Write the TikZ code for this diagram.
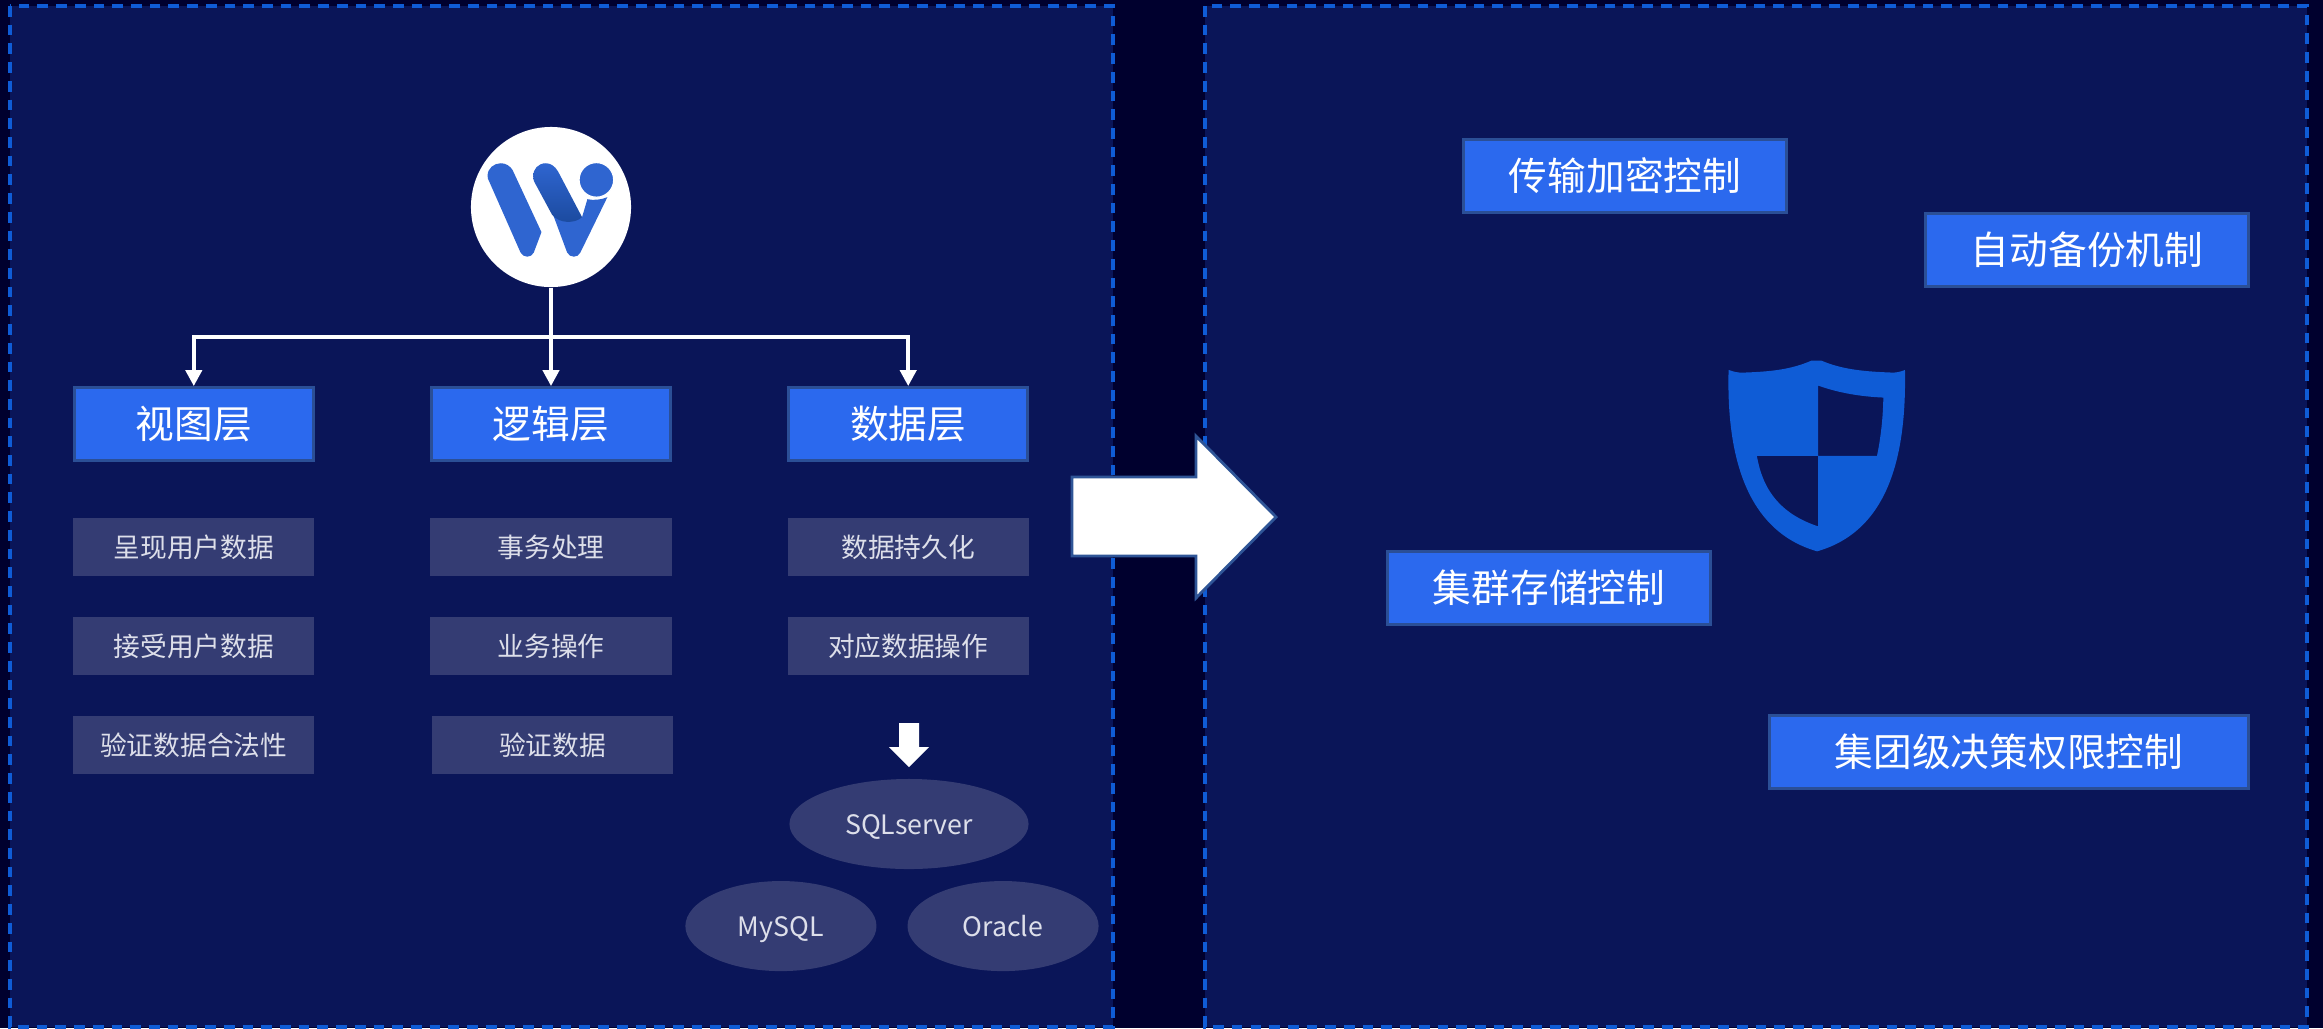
\documentclass[tikz,border=0pt]{standalone}
\usepackage{fontspec}
\setmainfont{Noto Sans CJK SC}
\usetikzlibrary{positioning, arrows.meta, shapes.geometric}
\definecolor{page_dark}{HTML}{00002E}
\definecolor{panel_navy}{HTML}{0A1558}
\definecolor{dash_blue}{HTML}{0F5CD6}
\definecolor{layer_blue}{HTML}{2B69EE}
\definecolor{layer_edge}{HTML}{2B4F96}
\definecolor{item_grey}{HTML}{343C73}
\definecolor{item_text}{HTML}{DDDFEA}
\definecolor{logo_blue}{HTML}{2F65D0}
\definecolor{logo_dark}{HTML}{1B4A9E}
\definecolor{arrow_edge}{HTML}{2F5597}

\begin{document}
\begin{tikzpicture}
    [
        x=0.01cm, y=-0.01cm,
        node distance=0.99cm and 3.57cm, on grid,
        panel_box/.style={draw=dash_blue, fill=panel_navy, line width=0.035cm, dash pattern=on 0.107cm off 0.08cm},
        layer_node/.style={rectangle, draw=layer_edge, fill=layer_blue, line width=0.03cm, minimum height=0.73cm, minimum width=2.39cm, inner sep=0pt, text=white, font=\fontsize{11}{13}\selectfont},
        ctrl_node/.style={layer_node, minimum width=3.22cm},
        item_node/.style={rectangle, fill=item_grey, minimum height=0.58cm, minimum width=2.41cm, inner sep=0pt, text=item_text, font=\fontsize{7.6}{10}\selectfont},
        db_node/.style={ellipse, fill=item_grey, minimum height=0.9cm, minimum width=1.91cm, inner sep=0pt, text height=0.2cm, text depth=0cm, text=item_text, font=\fontsize{7.6}{10}\selectfont},
        link/.style={draw=white, line width=0.04cm, -{Triangle[length=0.16cm, width=0.16cm]}},
    ]
        % background and panels
        \fill[page_dark] (0,0) rectangle (2323,1028);
        \draw[panel_box] (10,6) rectangle (1113,1027);
        \draw[panel_box] (1205,6) rectangle (2307,1027);

        % left side
        \node[circle, fill=white, minimum size=1.6cm, inner sep=0pt] (logo) at (551,207) {};
        \node[layer_node] (logic_layer) [below = 2.17cm of logo] {逻辑层};
        \node[layer_node] (view_layer) [left = of logic_layer] {视图层};
        \node[layer_node] (data_layer) [right = of logic_layer] {数据层};

        \node[item_node] (view_a) [below = 1.23cm of view_layer] {呈现用户数据};
        \node[item_node] (view_b) [below = of view_a] {接受用户数据};
        \node[item_node] (view_c) [below = of view_b] {验证数据合法性};
        \node[item_node] (logic_a) [below = 1.23cm of logic_layer] {事务处理};
        \node[item_node] (logic_b) [below = of logic_a] {业务操作};
        \node[item_node, xshift=0.015cm] (logic_c) [below = of logic_b] {验证数据};
        \node[item_node] (data_a) [below = 1.23cm of data_layer] {数据持久化};
        \node[item_node] (data_b) [below = of data_a] {对应数据操作};

        \node[db_node, minimum width=2.39cm] (sql_db) at (909,824) {SQLserver};
        \node[db_node] (mysql_db) [below left = 1.02cm and 1.28cm of sql_db] {MySQL};
        \node[db_node] (oracle_db) [right = 2.22cm of mysql_db] {Oracle};

        \coordinate (bus) at (551,337);
        \draw[link] (logo) -- (logic_layer);
        \draw[link] (bus) -| (view_layer);
        \draw[link] (bus) -| (data_layer);
        \fill[white] (899,723) -- (919,723) -- (919,747) -- (929,747) -- (909,767) -- (889,747) -- (899,747) -- cycle;

        % logo letter
        \begin{scope}[shift={(420,100)}, x=0.00333cm, y=-0.00333cm]
            \fill[logo_blue] (278,210) -- (365,397) -- (342,458) .. controls (335,475) and (310,475) .. (302,458) -- (208,245) .. controls (205,240) and (203,235) .. (203,228) .. controls (203,205) and (222,190) .. (243,190) .. controls (258,190) and (270,198) .. (278,210) -- cycle;
            \fill[logo_blue] (400,345) -- (442,458) .. controls (450,475) and (475,475) .. (482,458) -- (563,292) .. controls (545,300) and (520,302) .. (503,298) -- (487,352) -- cycle;
            \path[top color=logo_blue, middle color=logo_blue, bottom color=logo_dark] (343,245) -- (397,345) .. controls (420,372) and (465,372) .. (487,352) -- (415,215) .. controls (405,198) and (392,190) .. (378,190) .. controls (355,190) and (340,208) .. (340,228) .. controls (340,235) and (341,240) .. (343,245) -- cycle;
            \fill[logo_blue, draw=white, line width=0.012cm] (530,240) circle (52);
        \end{scope}

        % big arrow
        \draw[draw=arrow_edge, fill=white, line width=0.028cm] (1072,477) -- (1196,477) -- (1196,436) -- (1276,517) -- (1196,598) -- (1196,556) -- (1072,556) -- cycle;

        % right side
        \node[ctrl_node] (ctrl_a) at (1625,176) {传输加密控制};
        \node[ctrl_node] (ctrl_b) at (2087,250) {自动备份机制};
        \node[ctrl_node] (ctrl_c) at (1549,588) {集群存储控制};
        \node[ctrl_node, minimum width=4.78cm] (ctrl_d) at (2009,752) {集团级决策权限控制};

        % shield
        \begin{scope}[shift={(1680,330)}, x=0.00333cm, y=-0.00333cm]
            \fill[dash_blue, even odd rule] (146,120) .. controls (160,125) and (175,129) .. (190,128) .. controls (270,125) and (330,120) .. (395,92) -- (425,92) .. controls (490,120) and (560,125) .. (640,128) .. controls (650,128) and (665,125) .. (676,120) .. controls (680,350) and (640,600) .. (412,665) .. controls (185,600) and (140,350) .. (146,120) -- cycle
                (415,167) .. controls (480,190) and (545,200) .. (611,203) .. controls (610,265) and (603,325) .. (592,378) -- (415,378) -- cycle
                (231,378) -- (415,378) -- (415,590) .. controls (310,555) and (250,490) .. (231,378) -- cycle;
        \end{scope}
    \end{tikzpicture}
\end{document}
